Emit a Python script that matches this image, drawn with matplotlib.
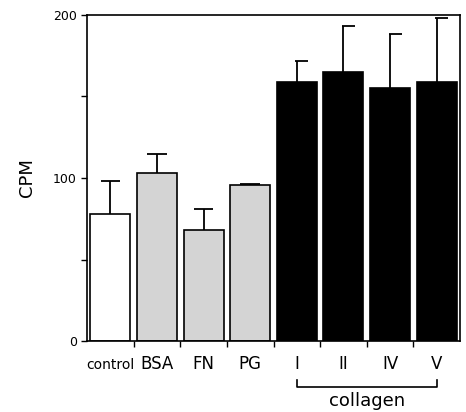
import numpy as np
import matplotlib
matplotlib.use("Agg")
import matplotlib.pyplot as plt

# values
labels = ["control", "BSA", "FN", "PG", "I", "II", "IV", "V"]
cpm = [78, 103, 68, 96, 159, 165, 155, 159]
err = [20, 12, 13, 0.5, 13, 28, 33, 39]
colors = ["white", "#d4d4d4", "#d4d4d4", "#d4d4d4", "black", "black", "black", "black"]

fig = plt.figure(figsize=(4.66, 4.12), dpi=100)
ax = fig.add_axes([0.187, 0.172, 0.800, 0.792])

x = np.arange(len(labels))
cpm = np.array(cpm)
err = np.array(err)
top = cpm + err
ax.bar(x, cpm, width=0.86, color=colors, edgecolor="black", linewidth=1.2, zorder=2)
# upper error whiskers only
ax.vlines(x, cpm, top, color="black", lw=1.3, zorder=1)
# caps: full on the first four, right half only on the collagen bars
half = x >= 4
ax.hlines(top[~half], x[~half] - 0.21, x[~half] + 0.21, color="black", lw=1.3)
ax.hlines(top[half], x[half] - 0.03, x[half] + 0.25, color="black", lw=1.3)

ax.set_xlim(-0.5, len(labels) - 0.5)
ax.set_ylim(0, 200)
ax.set_yticks([0, 50, 100, 150, 200])
ax.set_yticklabels(["0", "", "100", "", "200"], fontsize=9)
ax.set_ylabel("CPM", fontsize=13, labelpad=12)

# ticks sit between bars, names under bars
ax.set_xticks(x[:-1] + 0.5)
ax.set_xticklabels([])
ax.set_xticks(x, minor=True)
ax.set_xticklabels(labels, minor=True)
ax.tick_params(axis="x", which="minor", length=0, pad=20, labelsize=12)
ax.tick_params(axis="x", which="major", length=4, width=1, direction="out")
ax.tick_params(axis="y", length=4, width=1, direction="out")
for lab in ax.get_xticklabels(minor=True):
    lab.set_verticalalignment("baseline")
    if lab.get_text() == "control":
        lab.set_fontsize(10)

for s in ax.spines.values():
    s.set_linewidth(1.2)

# bracket under the collagen types
tr = ax.get_xaxis_transform()
ax.plot([4, 4, 7, 7], [-0.12, -0.142, -0.142, -0.12], color="black", lw=1.2,
        transform=tr, clip_on=False)
ax.text(5.5, -0.155, "collagen", transform=tr, ha="center", va="top", fontsize=13)

fig.savefig("out.png", dpi=100)
